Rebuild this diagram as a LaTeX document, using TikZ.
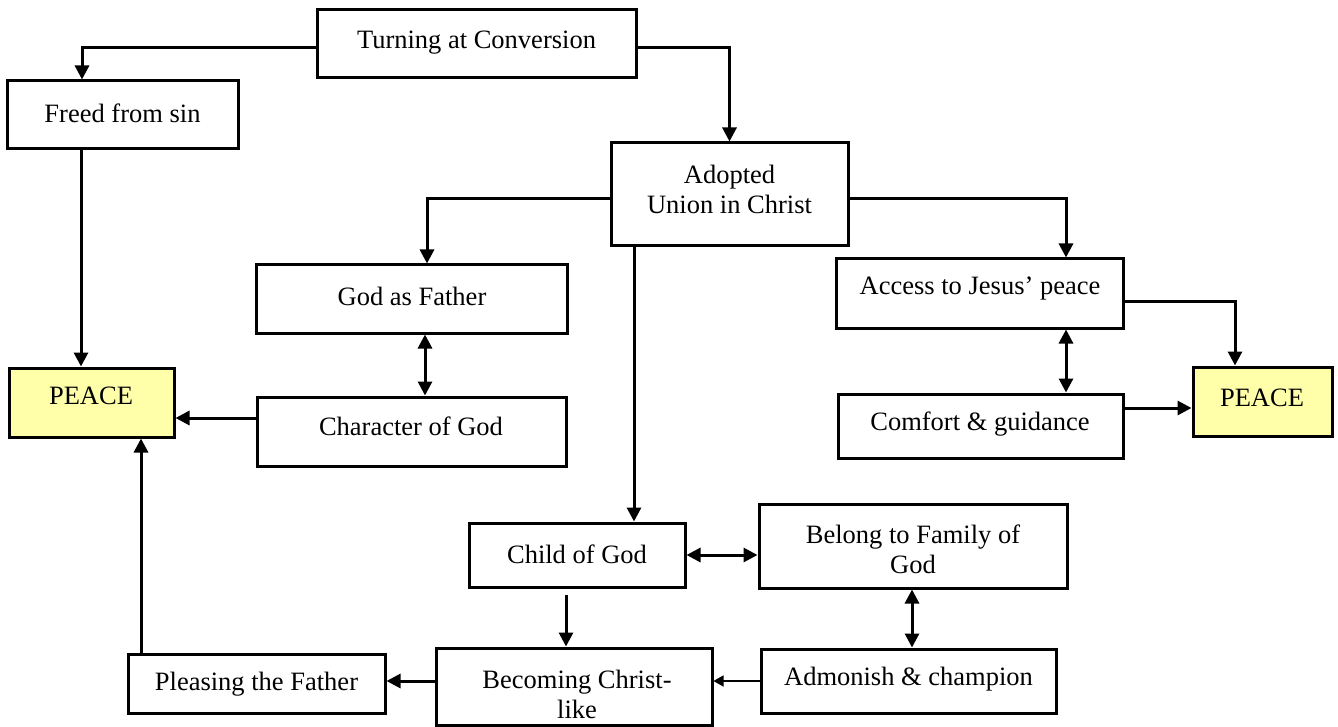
\documentclass[tikz,border=0pt]{standalone}
\usepackage{fontspec}
\setmainfont{Liberation Serif}
\usetikzlibrary{arrows.meta}
\definecolor{peacefill}{RGB}{255,255,170}
\begin{document}
\begin{tikzpicture}[x=1pt,y=-1pt,
  box/.style={draw, line width=3pt, rectangle, inner sep=0pt},
  txt/.style={inner sep=0pt, align=center, font=\fontsize{26.5pt}{30pt}\selectfont},
  arr/.style={line width=3pt, -{Triangle[length=14pt,width=14pt]}},
  darr/.style={line width=3pt, {Triangle[length=14pt,width=14pt]}-{Triangle[length=14pt,width=14pt]}},
  thinarr/.style={line width=1.5pt, -{Triangle[length=10pt,width=11pt]}},
]
\useasboundingbox (0,0) rectangle (1338,727);

% boxes
\node[box, minimum width=319pt, minimum height=68pt] (turn) at (476.5,44) {};
\node[box, minimum width=231pt, minimum height=68pt] (freed) at (122.5,115) {};
\node[box, minimum width=237pt, minimum height=103pt] (adopt) at (729.5,194.5) {};
\node[box, minimum width=311pt, minimum height=68pt] (gaf) at (411.5,299) {};
\node[box, minimum width=287pt, minimum height=69pt] (access) at (979.5,293.5) {};
\node[box, fill=peacefill, minimum width=165pt, minimum height=69pt] (peaceL) at (91.5,402.5) {};
\node[box, minimum width=309pt, minimum height=69pt] (char) at (411.5,431.5) {};
\node[box, minimum width=285pt, minimum height=64pt] (comfort) at (980.5,426) {};
\node[box, fill=peacefill, minimum width=139pt, minimum height=69pt] (peaceR) at (1262.5,401.5) {};
\node[box, minimum width=216pt, minimum height=64pt] (child) at (577,555) {};
\node[box, minimum width=308pt, minimum height=84pt] (belong) at (913,546) {};
\node[box, minimum width=257pt, minimum height=59pt] (pleasing) at (256.5,683.5) {};
\node[box, minimum width=276pt, minimum height=77pt] (becoming) at (574,686.5) {};
\node[box, minimum width=295pt, minimum height=64pt] (admon) at (908.5,681) {};

% texts
\node[txt] (tturn) at (476.5,43) {Turning at Conversion};
\node[txt] (tfreed) at (122.5,113) {Freed from sin};
\node[txt] (tadopt) at (729.5,189) {Adopted\\Union in Christ};
\node[txt] (tgaf) at (412,296) {God as Father};
\node[txt] (taccess) at (980,289) {Access to Jesus’ peace};
\node[txt] (tpeaceL) at (91,396) {PEACE};
\node[txt] (tchar) at (411,426) {Character of God};
\node[txt] (tcomfort) at (980,424) {Comfort \& guidance};
\node[txt] (tpeaceR) at (1262,398) {PEACE};
\node[txt] (tchild) at (577,554) {Child of God};
\node[txt] (tbelong) at (913,549) {Belong to Family of\\God};
\node[txt] (tpleasing) at (256.5,684) {Pleasing the Father};
\node[txt] (tbecoming) at (577,694) {Becoming Christ-\\like};
\node[txt] (tadmon) at (908.5,679) {Admonish \& champion};

% connectors
\draw[arr] ([yshift=-4pt]turn.west) -| ([xshift=-40.5pt]freed.north);
\draw[arr] ([yshift=-4pt]turn.east) -| (adopt.north);

\coordinate (fs) at ([xshift=-41.5pt]freed.south);
\draw[arr] (fs) -- (fs |- peaceL.north);

\draw[arr] ([yshift=-4.5pt]adopt.west) -| ([xshift=15.5pt]gaf.north);
\draw[arr] ([yshift=-4.5pt]adopt.east) -| ([xshift=86.5pt]access.north);

\coordinate (ab) at ([xshift=-95.5pt]adopt.south);
\draw[arr] (ab) -- (ab |- child.north);

\coordinate (gc) at ([xshift=13.5pt]gaf.south);
\draw[darr] (gc) -- (gc |- char.north);

\coordinate (cp) at ([yshift=13.5pt]char.west);
\draw[arr] (cp) -- (cp -| peaceL.east);

\draw[arr] ([yshift=-7.5pt]access.east) -| ([xshift=-27.5pt]peaceR.north);

\coordinate (ac) at ([xshift=86.5pt]access.south);
\draw[darr] (ac) -- (ac |- comfort.north);

\coordinate (cr) at ([yshift=18pt]comfort.east);
\draw[arr] (cr) -- (cr -| peaceR.west);

\draw[darr] (child.east) -- (child.east -| belong.west);

\coordinate (cb) at ([xshift=-11pt,yshift=-6pt]child.south);
\draw[arr] (cb) -- (cb |- becoming.north);

\coordinate (ba) at ([xshift=-1pt]belong.south);
\draw[darr] (ba) -- (ba |- admon.north);

\draw[thinarr] (admon.west) -- (admon.west -| becoming.east);

\coordinate (bp) at ([yshift=5.5pt]becoming.west);
\draw[arr] (bp) -- (bp -| pleasing.east);

\coordinate (pp) at ([xshift=-115.5pt]pleasing.north);
\draw[arr] (pp) -- (pp |- peaceL.south);
\end{tikzpicture}
\end{document}
